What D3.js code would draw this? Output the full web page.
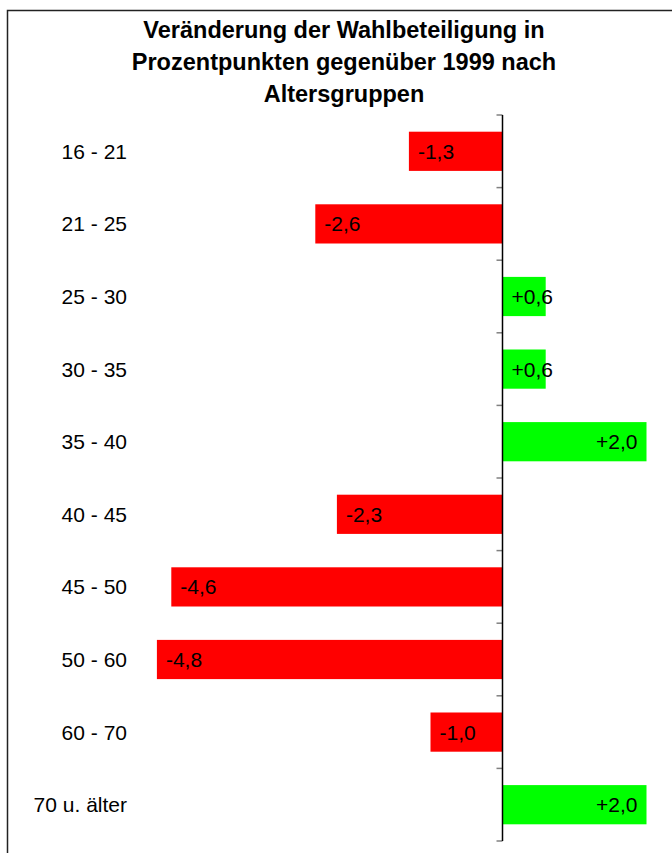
<!DOCTYPE html>
<html>
<head>
<meta charset="utf-8">
<script src="https://cdn.jsdelivr.net/npm/d3@7"></script>
<style>
  body { margin: 0; background: #fff; }
  svg text { font-family: "Liberation Sans", Arial, sans-serif; fill: #000; }
</style>
</head>
<body>
<script>
// Data.
const title = ['Veränderung der Wahlbeteiligung in', 'Prozentpunkten gegenüber 1999 nach', 'Altersgruppen']
const groups = ['16 - 21', '21 - 25', '25 - 30', '30 - 35', '35 - 40', '40 - 45', '45 - 50', '50 - 60', '60 - 70', '70 u. älter']
const changes = [-1.3, -2.6, 0.6, 0.6, 2.0, -2.3, -4.6, -4.8, -1.0, 2.0]

const W = 672, H = 853
const zeroX = 502.5

const svg = d3.select('body')
  .append('svg')
    .attr('width', W)
    .attr('height', H)

// Frame (right and bottom edges fall outside the picture).
svg.append('rect')
    .attr('x', 7.5)
    .attr('y', 10.5)
    .attr('width', 700)
    .attr('height', 900)
    .attr('fill', 'none')
    .attr('stroke', '#222')
    .attr('stroke-width', 1.5)

// Title.
svg.append('text')
    .attr('x', 344)
    .attr('y', 38)
    .attr('text-anchor', 'middle')
    .style('font-weight', 'bold')
    .style('font-size', '23.5px')
  .selectAll('tspan')
  .data(title)
  .join('tspan')
    .attr('x', 344)
    .attr('dy', (d, i) => i ? 32 : 0)
    .text(d => d)

// Scales.
const x = d3.scaleLinear().domain([-5, 2.5]).range([zeroX - 360, zeroX + 180])
const y = d3.scaleBand().domain(groups).range([115, 841]).paddingInner(0.46).paddingOuter(0.23)

const de = d3.formatLocale({ decimal: ',', thousands: '.', grouping: [3], currency: ['', ' €'], minus: '-' })
const fmt = v => de.format(v > 0 ? '+.1f' : '.1f')(v)

// Bars.
svg.append('g')
  .selectAll('rect')
  .data(changes)
  .join('rect')
    .attr('x', d => x(Math.min(0, d)))
    .attr('y', (d, i) => y(groups[i]))
    .attr('width', d => Math.abs(x(d) - x(0)))
    .attr('height', y.bandwidth())
    .attr('fill', d => d < 0 ? '#ff0000' : '#00ff00')

// Value labels inside the bar ends.
const labels = svg.append('g')
  .selectAll('text')
  .data(changes)
  .join('text')
    .attr('y', (d, i) => y(groups[i]) + y.bandwidth() / 2)
    .attr('dy', '0.36em')
    .style('font-size', '21px')
    .text(d => fmt(d))

labels.each(function (d) {
  const t = d3.select(this)
  if (d < 0) {
    t.attr('x', x(d) + 9)
  } else {
    const w = this.getComputedTextLength()
    t.attr('x', Math.max(x(0) + 9, x(d) - 9 - w))
  }
})

// Category axis at zero, ticks between groups.
const bounds = d3.range(groups.length + 1).map(i => 115 + i * y.step())
svg.append('g')
  .selectAll('line')
  .data(bounds)
  .join('line')
    .attr('x1', zeroX - 6)
    .attr('x2', zeroX)
    .attr('y1', d => d)
    .attr('y2', d => d)
    .attr('stroke', '#808080')
    .attr('stroke-width', 1.5)

svg.append('line')
    .attr('x1', zeroX)
    .attr('x2', zeroX)
    .attr('y1', 115)
    .attr('y2', 841)
    .attr('stroke', '#000')
    .attr('stroke-width', 1.5)

// Group names on the left.
svg.append('g')
  .selectAll('text')
  .data(groups)
  .join('text')
    .attr('x', 127)
    .attr('y', d => y(d) + y.bandwidth() / 2)
    .attr('dy', '0.36em')
    .attr('text-anchor', 'end')
    .style('font-size', '21px')
    .text(d => d)
</script>
</body>
</html>
